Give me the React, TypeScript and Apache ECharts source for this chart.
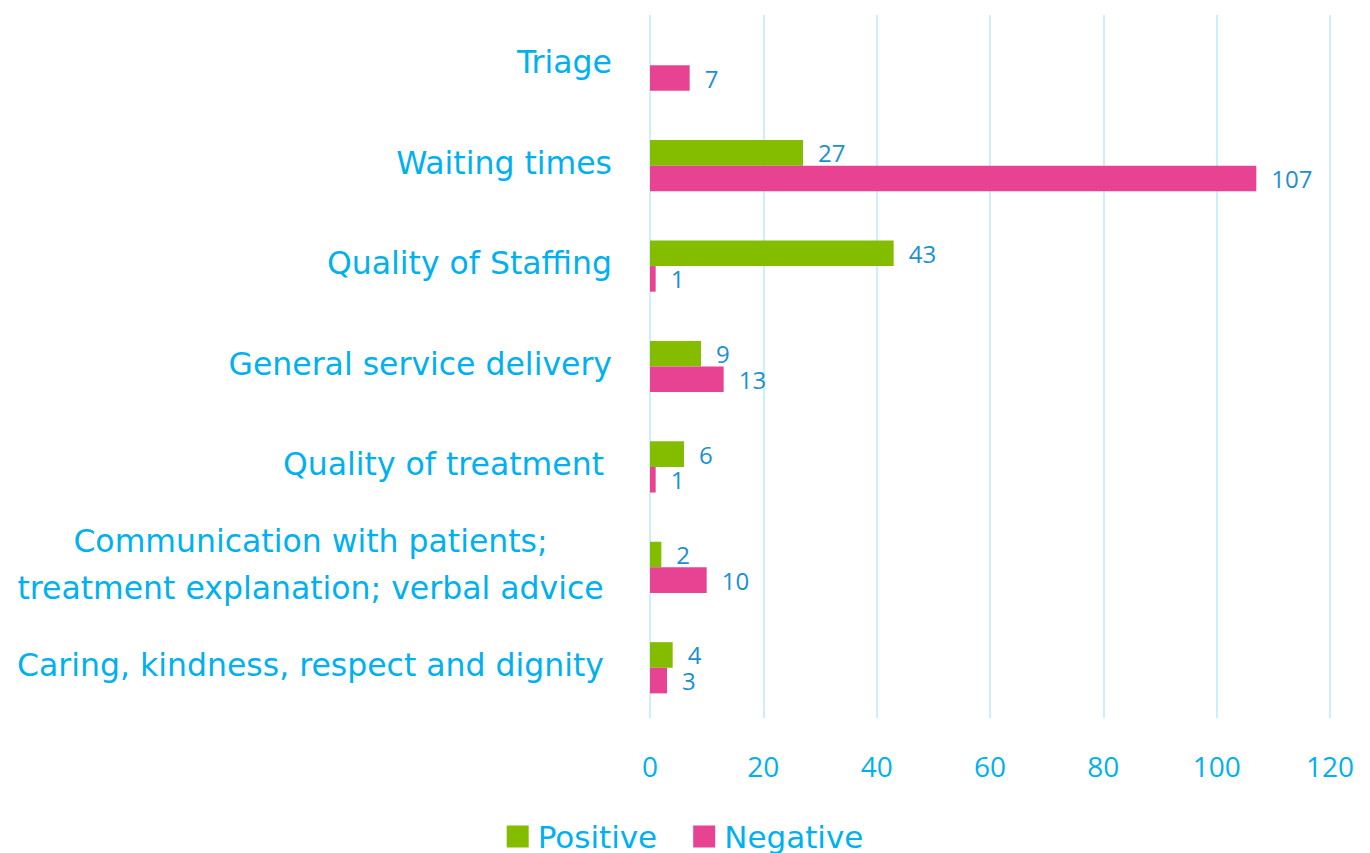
import React, { useEffect, useRef } from "react";
import * as echarts from "echarts";

const categories = [
  "Triage",
  "Waiting times",
  "Quality of Staffing",
  "General service delivery",
  "Quality of treatment",
  "Communication with patients;\ntreatment explanation; verbal advice",
  "Caring, kindness, respect and dignity",
];
const positive: (number | null)[] = [null, 27, 43, 9, 6, 2, 4];
const negative: number[] = [7, 107, 1, 13, 1, 10, 3];
const xTicks = { min: 0, max: 120, interval: 20 };

const FONT = '"Open Sans", "Noto Sans", sans-serif';
const CAT_FONT = '"DejaVu Sans", "Open Sans", sans-serif';
const CAT_COLOR = "#00b0f0";
const VAL_COLOR = "#1a90d3";
const GREEN = "#84bd00";
const PINK = "#e84393";

function measure(text: string, size: number, family: string) {
  const c = document.createElement("canvas").getContext("2d");
  if (!c) return text.length * size * 0.55;
  c.font = `${size}px ${family}`;
  return c.measureText(text).width;
}

export default function App() {
  const ref = useRef<HTMLDivElement>(null);
  useEffect(() => {
    if (!ref.current) return;
    const chart = echarts.init(ref.current, null, { renderer: "svg" });
    const catSize = 31.5;
    const multiW = Math.ceil(
      Math.max(
        ...categories
          .filter((c) => c.includes("\n"))
          .flatMap((c) => c.split("\n"))
          .map((l) => measure(l, catSize, CAT_FONT))
      )
    );
    const valueLabel = {
      show: true,
      position: "right",
      distance: 15,
      fontSize: 24,
      lineHeight: 22,
      color: VAL_COLOR,
      fontFamily: FONT,
    };
    chart.setOption({
      animation: false,
      textStyle: { fontFamily: FONT },
      grid: { left: 650, right: 40, top: 15, bottom: 135 },
      legend: {
        data: ["Positive", "Negative"],
        left: "center",
        top: 816,
        icon: "rect",
        itemWidth: 22,
        itemHeight: 22,
        itemGap: 36,
        textStyle: {
          fontSize: 31,
          color: CAT_COLOR,
          fontFamily: CAT_FONT,
          padding: [0, 0, 0, 4],
        },
      },
      xAxis: {
        type: "value",
        min: xTicks.min,
        max: xTicks.max,
        interval: xTicks.interval,
        axisLine: { show: false },
        axisTick: { show: false },
        splitLine: { lineStyle: { color: "#cdeefd", width: 2 } },
        axisLabel: {
          fontSize: 28,
          color: CAT_COLOR,
          margin: 34,
          fontFamily: FONT,
        },
      },
      yAxis: {
        type: "category",
        data: categories,
        inverse: true,
        axisLine: { show: false },
        axisTick: { show: false },
        axisLabel: {
          margin: 38,
          formatter: (v: string, i: number) => {
            if (v.includes("\n")) {
              return v
                .split("\n")
                .map((l) => `{m|${l}}`)
                .join("\n");
            }
            return i >= 4 ? `{b|${v}}` : `{a|${v}}`;
          },
          rich: {
            a: {
              fontSize: catSize,
              color: CAT_COLOR,
              fontFamily: CAT_FONT,
              padding: [0, 0, 6, 0],
            },
            b: {
              fontSize: catSize,
              color: CAT_COLOR,
              fontFamily: CAT_FONT,
              padding: [0, 8, 6, 0],
            },
            m: {
              fontSize: catSize,
              color: CAT_COLOR,
              fontFamily: CAT_FONT,
              width: multiW,
              align: "center",
              lineHeight: 47,
              padding: [0, 8, 6, 0],
            },
          },
        },
      },
      series: [
        {
          name: "Positive",
          type: "bar",
          data: positive,
          itemStyle: { color: GREEN },
          barGap: "0%",
          barCategoryGap: "49%",
          label: valueLabel,
        },
        {
          name: "Negative",
          type: "bar",
          data: negative,
          itemStyle: { color: PINK },
          barGap: "0%",
          barCategoryGap: "49%",
          label: valueLabel,
        },
      ],
    });
    return () => chart.dispose();
  }, []);
  return (
    <div
      ref={ref}
      style={{ width: 1370, height: 853, position: "absolute", left: 0, top: 0 }}
    />
  );
}
